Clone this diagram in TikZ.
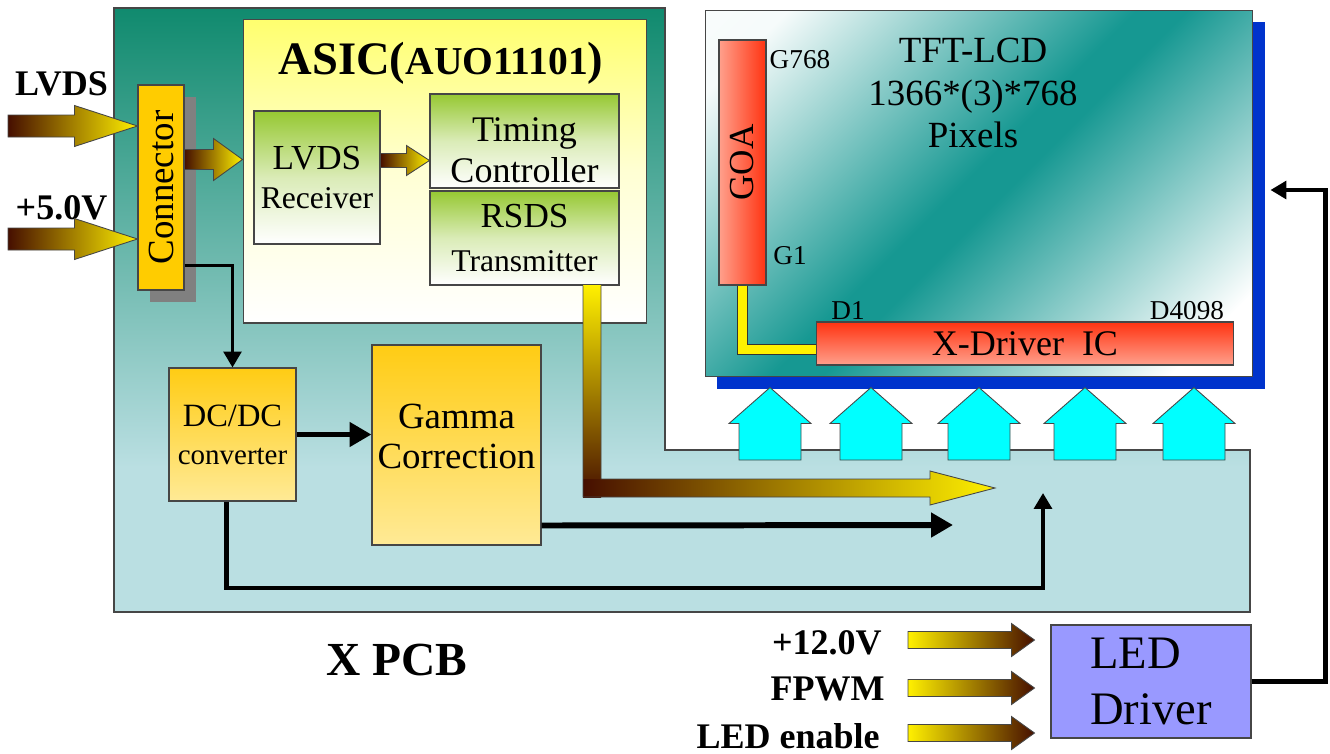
\documentclass[tikz,border=0pt]{standalone}
\usepackage{fontspec}
\setmainfont{Liberation Serif}
\usepackage{graphicx}
\usepackage{tikz}
\usetikzlibrary{arrows.meta,calc,shadows}
\definecolor{pcbdark}{RGB}{16,138,110}
\definecolor{pcblight}{RGB}{186,223,226}
\definecolor{asicyellow}{RGB}{255,255,110}
\definecolor{blockgreen}{RGB}{150,200,50}
\definecolor{blockgold}{RGB}{255,204,20}
\definecolor{blockcream}{RGB}{255,234,150}
\definecolor{connorange}{RGB}{255,204,0}
\definecolor{busdark}{RGB}{70,15,0}
\definecolor{busyellow}{RGB}{255,240,0}
\definecolor{panelteal}{RGB}{22,152,146}
\definecolor{panelblue}{RGB}{0,51,204}
\definecolor{chipred}{RGB}{255,51,17}
\definecolor{chiplight}{RGB}{255,160,140}
\definecolor{drvcyan}{RGB}{0,255,255}
\definecolor{ledviolet}{RGB}{153,153,255}
\definecolor{edgegray}{RGB}{70,70,70}
\pgfdeclareverticalshading{pcbshade}{100bp}{color(0bp)=(pcblight); color(25bp)=(pcblight);
  color(37bp)=(pcblight); color(75bp)=(pcbdark); color(100bp)=(pcbdark)}
\pgfdeclareverticalshading{panelshade}{100bp}{color(0bp)=(white); color(21bp)=(white);
  color(48bp)=(panelteal); color(52bp)=(panelteal); color(79bp)=(white!96!panelteal); color(100bp)=(white)}
\tikzset{
  blk/.style     ={rectangle, draw=edgegray, line width=0.6pt, inner sep=0pt, align=center},
  asicbox/.style ={blk, top color=asicyellow, bottom color=white, middle color=asicyellow!30!white},
  greenbox/.style={blk, top color=blockgreen, bottom color=white, middle color=blockgreen!35!white},
  goldbox/.style ={blk, top color=blockgold, bottom color=blockcream},
  connbox/.style ={blk, fill=connorange,
                   general shadow={fill=gray, shadow xshift=0.24cm, shadow yshift=-0.24cm}},
  panelbox/.style={blk, shade, shading=panelshade, shading angle=45,
                   general shadow={fill=panelblue, shadow xshift=0.24cm, shadow yshift=-0.24cm}},
  goabox/.style  ={blk, left color=chiplight, right color=chipred},
  xdrvbox/.style ={blk, top color=chipred, bottom color=chiplight},
  ledbox/.style  ={blk, fill=ledviolet},
  busin/.style   ={left color=busdark, right color=busyellow, draw=edgegray, line width=0.5pt},
  busout/.style  ={left color=busyellow, right color=busdark, draw=edgegray, line width=0.5pt},
  drvarrow/.style={fill=drvcyan, draw=edgegray, line width=0.5pt},
  wirethin/.style={draw=black, line width=2pt, -{Triangle[length=9pt,width=10pt]}},
  wiremid/.style ={draw=black, line width=2.3pt, -{Triangle[length=9pt,width=10pt]}},
  wirebold/.style={draw=black, line width=3.4pt, -{Triangle[length=12.5pt,width=13.5pt]}},
  goatrace/.style={draw=black!80, double=yellow, double distance=5.4pt, line width=0.6pt},
  inlbl/.style   ={font=\bfseries\fontsize{20.5}{24}\selectfont, inner sep=0pt},
  pinlbl/.style  ={font=\fontsize{15.5}{18}\selectfont, inner sep=0pt}
}
% fat bus arrow pointing right: start, target, half body, half head, head length
\newcommand{\fatright}[6][]{%
  \path[#1] ($(#2)+(0,#4)$) -- ($(#2 -| #3)+(-#6,#4)$) -- ($(#2 -| #3)+(-#6,#5)$)
    -- (#2 -| #3) -- ($(#2 -| #3)+(-#6,-#5)$) -- ($(#2 -| #3)+(-#6,-#4)$)
    -- ($(#2)+(0,-#4)$) -- cycle;}
% fat arrow pointing up
\newcommand{\fatup}[6][]{%
  \path[#1] ($(#2)+(-#4,0)$) -- ($(#3 -| #2)+(-#4,#6)$) -- ($(#3 -| #2)+(-#5,#6)$)
    -- (#3 -| #2) -- ($(#3 -| #2)+(#5,#6)$) -- ($(#3 -| #2)+(#4,#6)$)
    -- ($(#2)+(#4,0)$) -- cycle;}
\begin{document}
\begin{tikzpicture}[x=0.02cm, y=-0.02cm]
\useasboundingbox (0,0) rectangle (1330,754);
% X PCB board
\shadedraw[shading=pcbshade, draw=edgegray, line width=0.6pt] (114,8) -- (665,8) -- (665,450)
  -- (1250,450) -- (1250,612) -- (114,612) -- cycle;
\node[font=\bfseries\fontsize{27}{30}\selectfont, inner sep=0pt] (pcblbl) at (397,660) {X PCB};
% Connector and inputs
\node[connbox, minimum width=0.92cm, minimum height=4.1cm, font=\fontsize{21}{24}\selectfont]
  (conn) at (161,187.5) {\rotatebox{90}{Connector}};
\node[inlbl] (lvdslbl) at (61.5,84) {LVDS};
\node[inlbl] (pwrlbl) at (61.5,208) {+5.0V};
\coordinate (lvdsin) at (8,126);
\coordinate (pwrin) at (8,239);
\fatright[busin]{lvdsin}{conn.west}{11}{20.5}{63}
\fatright[busin]{pwrin}{conn.west}{11}{20.5}{63}
% ASIC
\node[asicbox, minimum width=8.08cm, minimum height=6.08cm] (asic) at (445,171) {};
\node[inner sep=0pt, font=\bfseries] (asiclbl) at (441,63)
  {{\fontsize{26.5}{30}\selectfont ASIC(}{\fontsize{22.5}{24}\selectfont AUO11101}{\fontsize{26.5}{30}\selectfont )}};
\node[greenbox, minimum width=2.52cm, minimum height=2.66cm, font=\fontsize{18}{22.7}\selectfont]
  (rx) at (317,177.5) {{\fontsize{20}{22.7}\selectfont LVDS}\\Receiver};
\node[greenbox, minimum width=3.78cm, minimum height=1.88cm, font=\fontsize{20.5}{23.8}\selectfont]
  (tcon) at (524.5,141) {\rule{0pt}{24pt}Timing\\Controller};
\node[greenbox, minimum width=3.78cm, minimum height=1.88cm, font=\fontsize{18}{25}\selectfont]
  (rsds) at (524.5,238) {{\fontsize{20}{25}\selectfont RSDS}\\Transmitter};
\coordinate (connout) at ($(conn.east)+(0,-28)$);
\fatright[busin]{connout}{asic.west}{10}{21}{29}
\coordinate (rxout) at ($(rx.east)+(0,-17)$);
\fatright[busin]{rxout}{tcon.west}{7}{15}{23}
% RSDS bus down and right
\coordinate (rsdsbend) at (592,488);
\coordinate (rsdsend) at (995,488);
\path[top color=busyellow, bottom color=busdark] ($(rsds.south -| rsdsbend)+(-9,0)$) rectangle ($(rsdsbend)+(9,9)$);
\path[left color=busdark, right color=busyellow] ($(rsdsbend)+(-9,9)$) -- ($(rsdsend)+(-65,9)$)
  -- ($(rsdsend)+(-65,17)$) -- (rsdsend) -- ($(rsdsend)+(-65,-17)$) -- ($(rsdsend)+(-65,-9)$)
  -- ($(rsdsbend)+(-9,-9)$) -- cycle;
\draw[edgegray, line width=0.5pt] ($(rsds.south -| rsdsbend)+(-9,0)$) -- ($(rsdsbend)+(-9,9)$)
  -- ($(rsdsend)+(-65,9)$) -- ($(rsdsend)+(-65,17)$) -- (rsdsend) -- ($(rsdsend)+(-65,-17)$)
  -- ($(rsdsend)+(-65,-9)$) -- ($(rsdsbend)+(9,-9)$) -- ($(rsds.south -| rsdsbend)+(9,0)$);
% Power and gamma
\node[goldbox, minimum width=2.54cm, minimum height=2.66cm, font=\fontsize{16.5}{21.5}\selectfont]
  (dcdc) at (232.5,434.5) {{\fontsize{18.5}{21.5}\selectfont DC/DC}\\converter};
\node[goldbox, minimum width=3.38cm, minimum height=4cm, font=\fontsize{21}{23.2}\selectfont]
  (gamma) at (456.5,445) {Gamma\\Correction\rule[-10pt]{0pt}{10pt}};
\draw[wirethin] ($(conn.south east)+(0,-25)$) -| (dcdc.north);
\draw[wirebold] (dcdc.east) -- (dcdc.east -| gamma.west);
\coordinate (gammatip) at (953,525);
\draw[wirebold] ($(gamma.south east)+(0,-20)$) -- (gammatip);
\coordinate (vbend) at (1043,588);
\coordinate (vtip) at (1043,493);
\draw[wiremid] ($(dcdc.south)+(-6,0)$) |- (vbend) -- (vtip);
% TFT-LCD panel
\node[panelbox, minimum width=10.96cm, minimum height=7.34cm] (panel) at (979,193.5) {};
\node[font=\fontsize{21}{24.4}\selectfont, align=center, inner sep=0pt] (tftlbl) at (973,93)
  {TFT-LCD\\1366*(3)*768\\Pixels};
\node[goabox, minimum width=0.94cm, minimum height=4.9cm, font=\fontsize{20}{24}\selectfont]
  (goa) at (742.5,162.5) {\rotatebox{90}{GOA}};
\node[xdrvbox, minimum width=8.36cm, minimum height=0.86cm, font=\fontsize{20.5}{24}\selectfont]
  (xdrv) at (1025,343.5) {X-Driver\ \ IC};
\draw[goatrace] (goa.south) |- ($(xdrv.west)+(0,6)$);
\node[pinlbl] (g768) at (800,60) {G768};
\node[pinlbl] (g1) at (790,256) {G1};
\node[pinlbl] (d1) at (848,311) {D1};
\node[pinlbl] (d4098) at (1187,311) {D4098};
% Source driver arrows
\coordinate (drvtop) at ($(panel.south)+(0,10)$);
\foreach \x [count=\i] in {770,871,979,1085,1194}{
  \coordinate (drv\i) at (\x,460);
  \fatup[drvarrow]{drv\i}{drvtop}{31}{41}{36}
}
% LED driver
\node[ledbox, minimum width=4cm, minimum height=2.26cm, align=left, font=\fontsize{26.5}{32.3}\selectfont]
  (led) at (1151,681.5) {LED\\Driver};
\coordinate (ledin) at ($(led.west)+(-16,0)$);
\coordinate (in12) at (908,640);
\coordinate (inpwm) at (908,688);
\coordinate (inen) at (908,733);
\node[inlbl, anchor=east] (v12lbl) at (882,643) {+12.0V};
\node[inlbl, anchor=east] (pwmlbl) at (885,689) {FPWM};
\node[inlbl, anchor=east] (enlbl) at (880,736) {LED enable};
\foreach \c in {in12,inpwm,inen}
  \fatright[busout]{\c}{ledin}{8.5}{16.5}{23};
\coordinate (ledtip) at ($(panel.east)+(17,-3.5)$);
\draw[wiremid] (led.east) -| ($(ledtip)+(55,0)$) -- (ledtip);
\end{tikzpicture}
\end{document}
